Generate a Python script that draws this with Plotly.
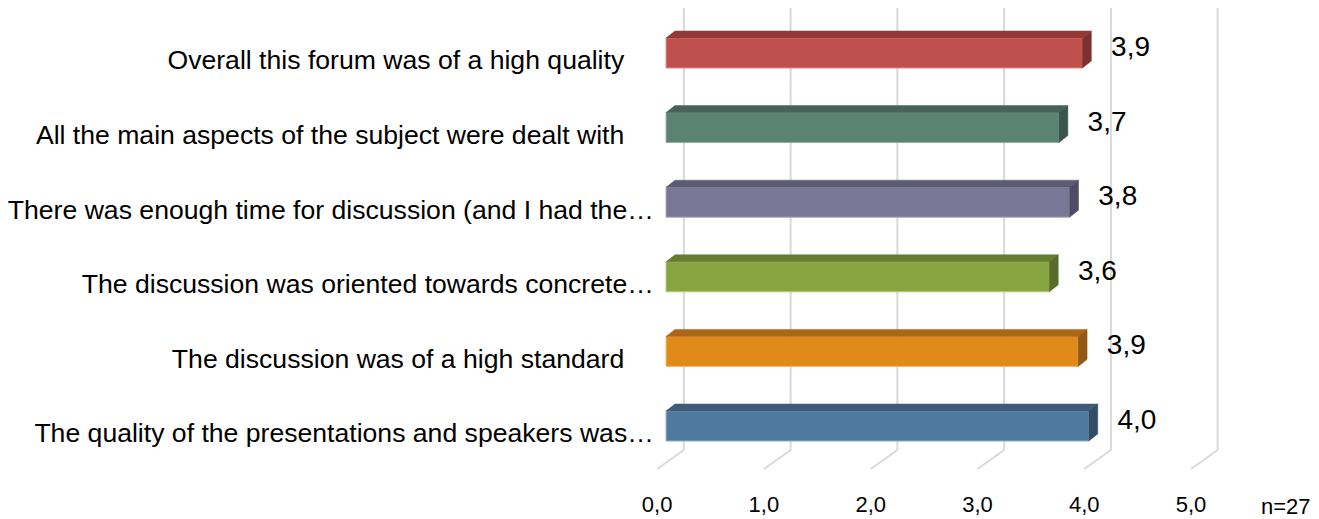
import plotly.graph_objects as go

# ---- data (top to bottom as shown) ----
categories = [
    "Overall this forum was of a high quality\u00a0\u00a0\u00a0\u00a0",
    "All the main aspects of the subject were dealt with\u00a0\u00a0\u00a0\u00a0",
    "There was enough time for discussion (and I had the…",
    "The discussion was oriented towards concrete…",
    "The discussion was of a high standard\u00a0\u00a0\u00a0\u00a0",
    "The quality of the presentations and speakers was…",
]
values = [3.90, 3.68, 3.78, 3.59, 3.86, 3.96]
tick_values = [0, 1, 2, 3, 4, 5]
tick_labels = ["0,0", "1,0", "2,0", "3,0", "4,0", "5,0"]
note = "n=27"

front_colors = ["#C0504D", "#5B8373", "#7A7696", "#86A43F", "#E08A1A", "#5079A0"]
top_colors = ["#923937", "#46625A", "#5D5A74", "#667D31", "#AA671A", "#3E5B79"]
side_colors = ["#7E302E", "#3B544C", "#4F4C64", "#586C2A", "#915816", "#344D67"]
edge_colors = ["#D98C8A", "#8FB0A4", "#A8A4C0", "#B4CD7C", "#F2B566", "#8CAFD0"]

n = len(categories)
ypos = [n - 1 - i for i in range(n)]  # top category at highest index

# figure is offset by the page's body margin
W, H = 1311, 511
x0_px = 650.5    # pixel of value 0 (front face of bars)
y0_px = 418      # pixel of the lowest category centre
px_x = 108.0     # px per value unit
px_y = 74.6      # px per category unit
plot_left = 630
plot_bottom = 467

bar_w = 30 / px_y
dx = 9 / px_x
dy = 7 / px_y
back_dx = 18 / px_x
front_dx = -9 / px_x
y_top = y0_px / px_y
y_back = -24 / px_y
y_front = -43 / px_y

fig = go.Figure()

# back wall + floor gridlines (below the traces)
for t in tick_values:
    fig.add_shape(type="line", xref="x", yref="y", layer="below",
                  x0=t + back_dx, x1=t + back_dx, y0=y_top, y1=y_back,
                  line=dict(color="#D9D9D9", width=2))
    fig.add_shape(type="line", xref="x", yref="y", layer="below",
                  x0=t + back_dx, x1=t + front_dx, y0=y_back, y1=y_front,
                  line=dict(color="#D9D9D9", width=2))

# front faces
fig.add_trace(go.Bar(
    x=values, y=ypos, orientation="h", width=bar_w,
    marker=dict(color=front_colors, line=dict(color=edge_colors, width=1)),
    hoverinfo="skip", showlegend=False))

# 3D top and side faces
for v, yc, tc, sc in zip(values, ypos, top_colors, side_colors):
    top = yc + bar_w / 2
    bot = yc - bar_w / 2
    fig.add_trace(go.Scatter(
        x=[0, v, v + dx, dx, 0], y=[top, top, top + dy, top + dy, top],
        fill="toself", fillcolor=tc, mode="lines", line=dict(color=tc, width=0.5),
        hoverinfo="skip", showlegend=False))
    fig.add_trace(go.Scatter(
        x=[v, v + dx, v + dx, v, v], y=[top, top + dy, bot + dy, bot, top],
        fill="toself", fillcolor=sc, mode="lines", line=dict(color=sc, width=0.5),
        hoverinfo="skip", showlegend=False))

# data labels
fig.add_trace(go.Scatter(
    x=[v + 29 / px_x for v in values], y=[y + 4 / px_y for y in ypos],
    text=[f"{v:.1f}".replace(".", ",") for v in values],
    mode="text", textposition="middle right",
    textfont=dict(size=28, color="#000000", family="Liberation Sans, Arial"),
    hoverinfo="skip", showlegend=False, cliponaxis=False))

fig.add_annotation(
    text=note, xref="paper", yref="paper", x=1305 / W, y=(H - 498) / H,
    xanchor="right", yanchor="middle", showarrow=False,
    font=dict(size=22, color="#000000", family="Liberation Sans, Arial"))

fig.update_layout(
    width=W, height=H,
    margin=dict(l=0, r=0, t=0, b=0),
    paper_bgcolor="white", plot_bgcolor="white",
    separators=",.",
    xaxis=dict(
        domain=[plot_left / W, 1],
        range=[(plot_left - x0_px) / px_x, (W - x0_px) / px_x],
        showgrid=False, zeroline=False, showline=False,
        tickvals=[t + front_dx for t in tick_values], ticktext=tick_labels,
        ticks="", ticklabelstandoff=14,
        tickfont=dict(size=22, color="#000000", family="Liberation Sans, Arial")),
    yaxis=dict(
        domain=[(H - plot_bottom) / H, 1],
        range=[-(plot_bottom - y0_px) / px_y, y0_px / px_y],
        showgrid=False, zeroline=False, showline=False,
        tickvals=[y - 7 / px_y for y in ypos], ticktext=categories,
        ticks="", ticklabelstandoff=-9,
        tickfont=dict(size=26.6, color="#000000", family="Liberation Sans, Arial")),
)

fig.write_html("out.html")
